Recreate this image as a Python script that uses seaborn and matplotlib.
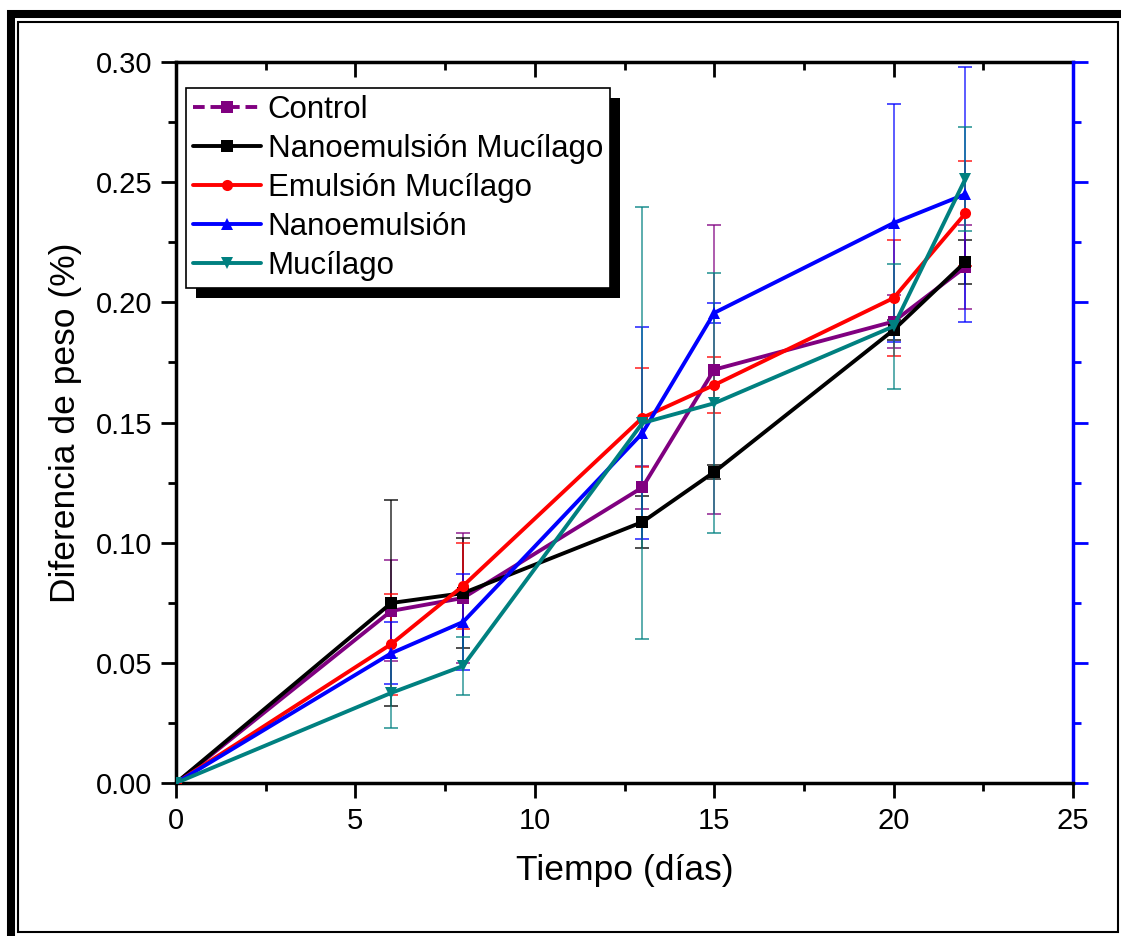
import numpy as np
import pandas as pd
import matplotlib
matplotlib.use("Agg")
import matplotlib.pyplot as plt
from matplotlib.patches import Rectangle
from matplotlib.lines import Line2D
from matplotlib.ticker import MultipleLocator, FormatStrFormatter
import seaborn as sns

# ---------------- data ----------------
tiempo = [0, 6, 8, 13, 15, 20, 22]
series = ["Control", "Nanoemulsión Mucílago", "Emulsión Mucílago", "Nanoemulsión", "Mucílago"]
control = [0, 0.0716, 0.077, 0.123, 0.172, 0.192, 0.2147]
control_err = [0, 0.021, 0.027, 0.009, 0.060, 0.011, 0.0175]
nano_muc = [0, 0.0749, 0.079, 0.1086, 0.1294, 0.1885, 0.2168]
nano_muc_err = [0, 0.043, 0.023, 0.011, 0.003, 0.004, 0.0093]
emul_muc = [0, 0.0578, 0.082, 0.152, 0.1656, 0.2018, 0.237]
emul_muc_err = [0, 0.021, 0.018, 0.0205, 0.0115, 0.024, 0.022]
nano = [0, 0.054, 0.067, 0.1456, 0.1956, 0.233, 0.245]
nano_err = [0, 0.013, 0.020, 0.044, 0.004, 0.0496, 0.053]
muc = [0, 0.0375, 0.0487, 0.1498, 0.158, 0.190, 0.2514]
muc_err = [0, 0.0146, 0.012, 0.090, 0.054, 0.026, 0.0216]
x_ticks = [0, 5, 10, 15, 20, 25]
y_ticks = [0.00, 0.05, 0.10, 0.15, 0.20, 0.25, 0.30]

values = [control, nano_muc, emul_muc, nano, muc]
errors = [control_err, nano_muc_err, emul_muc_err, nano_err, muc_err]
colors = {"Control": "#800080", "Nanoemulsión Mucílago": "#000000",
          "Emulsión Mucílago": "#FF0000", "Nanoemulsión": "#0000FF",
          "Mucílago": "#008080"}
markers = {"Control": "s", "Nanoemulsión Mucílago": "s", "Emulsión Mucílago": "o",
           "Nanoemulsión": "^", "Mucílago": "v"}

df = pd.DataFrame({
    "t": np.tile(tiempo, len(series)),
    "v": np.concatenate(values),
    "e": np.concatenate(errors),
    "serie": np.repeat(series, len(tiempo)),
})

# ---------------- style ----------------
sns.set_style("white")
plt.rcParams["font.family"] = ["Liberation Sans", "DejaVu Sans"]
for k in ["text.color", "axes.labelcolor", "xtick.color", "ytick.color"]:
    plt.rcParams[k] = "black"

W, H = 1121, 936
fig = plt.figure(figsize=(W / 100, H / 100), dpi=100)
ax = fig.add_axes([176 / W, 1 - 783 / H, (1073 - 176) / W, (783 - 62) / H])

LW = 2.8
MS = 8

# error bars
for s in series:
    d = df[(df.serie == s) & (df.e > 0)]
    ax.errorbar(d.t, d.v, yerr=d.e, fmt="none", ecolor=colors[s], elinewidth=1.2,
                capsize=5, capthick=1.3, alpha=0.75, zorder=2)

sns.lineplot(data=df, x="t", y="v", hue="serie", style="serie", hue_order=series,
             style_order=series, palette=colors, markers=markers, dashes=False,
             linewidth=LW, markersize=MS, markeredgewidth=0, legend=False, ax=ax,
             zorder=3)

ax.set_xlim(0, 25)
ax.set_ylim(0, 0.30)
ax.set_xticks(x_ticks)
ax.set_yticks(y_ticks)
ax.yaxis.set_major_formatter(FormatStrFormatter("%.2f"))
ax.xaxis.set_minor_locator(MultipleLocator(2.5))
ax.yaxis.set_minor_locator(MultipleLocator(0.025))
ax.set_xlabel("Tiempo (días)", fontsize=25.5, labelpad=14)
ax.set_ylabel("Diferencia de peso (%)", fontsize=25.5, labelpad=10)

ax.tick_params(axis="both", which="major", direction="out", length=11, width=2,
               labelsize=21, color="black", left=True, bottom=True, pad=6)
ax.tick_params(axis="both", which="minor", direction="out", length=6, width=2,
               left=True, bottom=True)
for sp in ["left", "bottom"]:
    ax.spines[sp].set_linewidth(2.5)
    ax.spines[sp].set_color("black")
ax.spines["top"].set_visible(False)
ax.spines["right"].set_visible(False)

# top axis (ticks inward)
top = ax.secondary_xaxis("top")
top.set_xticks(x_ticks)
top.xaxis.set_minor_locator(MultipleLocator(2.5))
top.tick_params(which="major", direction="in", length=11, width=2, labeltop=False)
top.tick_params(which="minor", direction="in", length=6, width=2)
top.spines["top"].set_linewidth(2.5)
top.spines["top"].set_color("black")

# right axis (blue, ticks outward)
right = ax.secondary_yaxis("right")
right.set_yticks(y_ticks)
right.yaxis.set_minor_locator(MultipleLocator(0.025))
right.tick_params(which="major", direction="out", length=11, width=2,
                  labelright=False, color="#0000FF")
right.tick_params(which="minor", direction="out", length=6, width=2, color="#0000FF")
right.spines["right"].set_linewidth(2.5)
right.spines["right"].set_color("#0000FF")

# legend
handles = []
for s in series:
    ls = (0, (3, 1.5)) if s == "Control" else "-"
    handles.append(Line2D([], [], color=colors[s], marker=markers[s], markersize=MS,
                          markeredgewidth=0, linewidth=LW, linestyle=ls))
leg = ax.legend(handles, series, loc="upper left", bbox_to_anchor=(0.011, 0.964),
                borderaxespad=0, fontsize=22.5, frameon=True, fancybox=False,
                handlelength=2.2, handletextpad=0.2, labelspacing=0.29,
                borderpad=0.22, framealpha=1, facecolor="white")
leg.get_frame().set_edgecolor("black")
leg.get_frame().set_linewidth(1.2)
leg.set_zorder(10)

fig.canvas.draw()
bb = leg.get_window_extent()
inv = ax.transAxes.inverted()
(x0, y0), (x1, y1) = inv.transform([[bb.x0 + 10, bb.y0 - 10], [bb.x1 + 10, bb.y1 - 10]])
ax.add_patch(Rectangle((x0, y0), x1 - x0, y1 - y0, transform=ax.transAxes,
                       facecolor="black", edgecolor="none", zorder=9, clip_on=False))

# outer frames
fig.add_artist(Rectangle((11 / W, 1 - 960 / H), (1140 - 11) / W, (960 - 14) / H,
                         transform=fig.transFigure, fill=False, edgecolor="black",
                         linewidth=5.8))
fig.add_artist(Rectangle((18 / W, 1 - 932 / H), (1118 - 18) / W, (932 - 22) / H,
                         transform=fig.transFigure, fill=False, edgecolor="black",
                         linewidth=1.5))

fig.savefig("out.png", dpi=100)
